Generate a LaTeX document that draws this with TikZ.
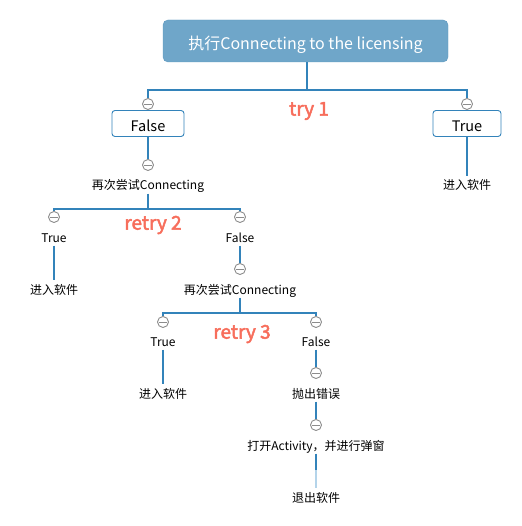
\documentclass[tikz,border=0pt]{standalone}
\usepackage{fontspec}
\setmainfont{Noto Sans CJK SC}
\newfontfamily\tagfont[FakeBold=2.5]{Noto Sans CJK SC}
\definecolor{rootfill}{HTML}{6FA6C9}
\definecolor{rootdraw}{HTML}{5B97BE}
\definecolor{linec}{HTML}{3383BA}
\definecolor{lightline}{HTML}{B4D4EA}
\definecolor{circc}{HTML}{8C8C8C}
\definecolor{redc}{HTML}{F76E5C}
\tikzset{
  rootbox/.style={draw=rootdraw, fill=rootfill, rounded corners=5pt, minimum width=285pt, minimum height=42pt, text=white, font=\fontsize{16}{18}\selectfont, text height=17pt, text depth=0pt, inner sep=0pt},
  valbox/.style={draw=linec, fill=white, rounded corners=3pt, minimum height=26pt, font=\fontsize{14.5}{16}\selectfont, text height=16pt, text depth=0pt, inner sep=0pt, line width=0.9pt},
  lbl/.style={font=\fontsize{12}{14}\selectfont, text height=11pt, text depth=1pt, inner sep=2.5pt},
  tag/.style={font=\tagfont\fontsize{19}{22}\selectfont, text=redc},
  fold/.style={circle, draw=circc, fill=white, minimum size=11pt, inner sep=0pt, line width=0.9pt,
    path picture={\draw[circc, line width=0.9pt] ([xshift=-3.6pt]path picture bounding box.center) -- ([xshift=3.6pt]path picture bounding box.center);}},
  conn/.style={draw=linec, line width=1.2pt},
}
\begin{document}
\begin{tikzpicture}[x=1pt,y=-1pt]
\useasboundingbox (0,0) rectangle (521,526);
% root
\node[rootbox] (root) at (305.5,41) {执行Connecting to the licensing};
\coordinate (j1) at (307,90);
\node[fold] (c1a) at (148,104) {};
\node[fold] (c1b) at (467,104) {};
\node[valbox, minimum width=72pt] (f1) at (148,123.5) {False};
\node[valbox, minimum width=68pt] (t1) at (467,123.5) {True};
\node[tag] (try1) at (309,111) {try 1};
\draw[conn] (root.south -| j1) -- (j1);
\draw[conn] (c1a.north) |- (j1) -| (c1b.north);
% right True
\node[lbl] (e1) at (467,185) {进入软件};
\draw[conn] (t1.south) -- (e1.north);
% left False
\node[fold] (c2) at (148,165) {};
\node[lbl] (r2) at (148,185) {再次尝试Connecting};
\draw[conn] (f1.south) -- (c2.north);
\coordinate (j2) at (148,209);
\node[fold] (c2a) at (54,217) {};
\node[fold] (c2b) at (240,217) {};
\draw[conn] (r2.south) -- (j2);
\draw[conn] (c2a.north) |- (j2) -| (c2b.north);
\node[tag] (retry2) at (153,225) {retry 2};
\node[lbl] (t2) at (54,237) {True};
\node[lbl] (f2) at (240,237) {False};
\node[lbl] (e2) at (54,289) {进入软件};
\draw[conn] (t2.south) -- (e2.north);
\node[fold] (c3) at (240,269) {};
\draw[conn] (f2.south) -- (c3.north);
\node[lbl] (r3) at (240,289) {再次尝试Connecting};
\coordinate (j3) at (240,313);
\draw[conn] (r3.south) -- (j3);
\node[fold] (c3a) at (163,322) {};
\node[fold] (c3b) at (316,322) {};
\draw[conn] (c3a.north) |- (j3) -| (c3b.north);
\node[tag] (retry3) at (242,334) {retry 3};
\node[lbl] (t3) at (163,341) {True};
\node[lbl] (f3) at (316,341) {False};
\node[lbl] (e3) at (163,393) {进入软件};
\draw[conn] (t3.south) -- (e3.north);
\node[fold] (c4) at (316,373) {};
\draw[conn] (f3.south) -- (c4.north);
\node[lbl] (err) at (316,393) {抛出错误};
\node[fold] (c5) at (316,425) {};
\draw[conn] (err.south) -- (c5.north);
\node[lbl] (act) at (316,445) {打开Activity，并进行弹窗};
\node[lbl] (quit) at (316,497) {退出软件};
\coordinate (mid) at (316,470);
\draw[conn] (act.south) -- (mid);
\draw[conn, draw=lightline] (mid) -- (quit.north);
\end{tikzpicture}
\end{document}
